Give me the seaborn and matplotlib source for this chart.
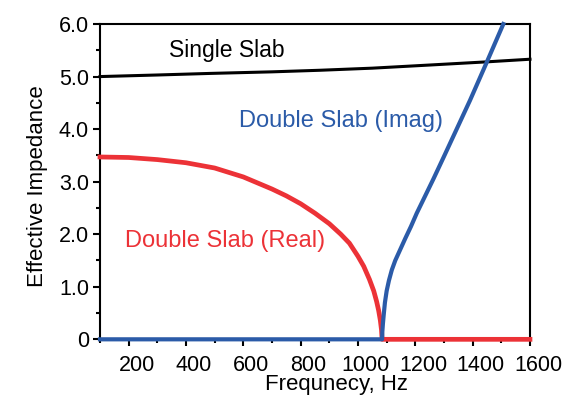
import numpy as np
import pandas as pd
import seaborn as sns
import matplotlib.pyplot as plt
from matplotlib.ticker import MultipleLocator, FixedLocator
from matplotlib.transforms import ScaledTranslation

# values
freq_single = [100, 300, 484, 700, 867, 1050, 1251, 1449, 1600]
z_single = [5.00, 5.03, 5.06, 5.09, 5.12, 5.16, 5.22, 5.28, 5.33]

freq_real = [100, 200, 300, 400, 500, 600, 700, 750, 800, 850, 900, 940, 970, 1000,
             1020, 1040, 1055, 1065, 1072, 1078, 1082, 1084, 1200, 1400, 1600]
z_real = [3.47, 3.46, 3.42, 3.36, 3.26, 3.09, 2.86, 2.73, 2.58, 2.40, 2.20, 2.00, 1.83, 1.58,
          1.39, 1.14, 0.92, 0.72, 0.55, 0.36, 0.18, 0.0, 0.0, 0.0, 0.0]

freq_imag = [100, 400, 700, 1000, 1084, 1085, 1087, 1090, 1094, 1100, 1108, 1118, 1130,
             1145, 1165, 1185, 1205, 1230, 1263, 1300, 1340, 1391, 1449, 1507]
z_imag = [0.0, 0.0, 0.0, 0.0, 0.0, 0.15, 0.30, 0.48, 0.70, 0.92, 1.12, 1.32, 1.50,
          1.68, 1.92, 2.15, 2.40, 2.68, 3.05, 3.48, 3.95, 4.55, 5.27, 6.0]

red = '#EC3237'
blue = '#2B5BA8'

plt.rcParams['font.family'] = ['Liberation Sans', 'DejaVu Sans']
plt.rcParams['xtick.direction'] = 'out'
plt.rcParams['ytick.direction'] = 'out'
plt.rcParams['xtick.major.size'] = 5
plt.rcParams['ytick.major.size'] = 5
plt.rcParams['xtick.minor.size'] = 3
plt.rcParams['ytick.minor.size'] = 3
plt.rcParams['xtick.major.width'] = 1.5
plt.rcParams['ytick.major.width'] = 1.5
plt.rcParams['xtick.minor.width'] = 1.5
plt.rcParams['ytick.minor.width'] = 1.5

fig = plt.figure(figsize=(5.76, 4.03), dpi=100)
ax = fig.add_axes([0.1736, 0.158, 0.7465, 0.7824])

sns.lineplot(x=freq_single, y=z_single, ax=ax, color='black', linewidth=2.2, sort=False)
sns.lineplot(x=freq_real, y=z_real, ax=ax, color=red, linewidth=3.4, sort=False)
sns.lineplot(x=freq_imag, y=z_imag, ax=ax, color=blue, linewidth=3.0, sort=False)
for ln in ax.get_lines():
    ln.set_clip_on(False)

ax.set_xlim(100, 1600)
ax.set_ylim(0, 6)

ax.xaxis.set_major_locator(FixedLocator([200, 400, 600, 800, 1000, 1200, 1400, 1600]))
ax.xaxis.set_minor_locator(MultipleLocator(100))
ax.set_yticks([0, 1, 2, 3, 4, 5, 6])
ax.set_yticklabels(['0', '1.0', '2.0', '3.0', '4.0', '5.0', '6.0'])
ax.yaxis.set_minor_locator(MultipleLocator(0.5))

for s in ax.spines.values():
    s.set_linewidth(1.5)
    s.set_color('black')
    s.set_zorder(0.5)

ax.tick_params(axis='x', which='major', pad=6, labelsize=15.5)
ax.tick_params(axis='y', which='major', pad=3, labelsize=15.5)

# labels in the reference sit a bit right of their ticks
shift = ScaledTranslation(0.08, 0, fig.dpi_scale_trans)
for lab in ax.get_xticklabels():
    lab.set_transform(lab.get_transform() + shift)

ax.set_xlabel('Frequnecy, Hz', fontsize=16)
ax.set_ylabel('Effective Impedance', fontsize=16)
ax.xaxis.set_label_coords(0.551, -0.110)
ax.yaxis.set_label_coords(-0.122, 0.486)

ax.text(542, 5.38, 'Single Slab', color='black', fontsize=16.5, ha='center', va='baseline')
ax.text(941, 4.04, 'Double Slab (Imag)', color=blue, fontsize=17, ha='center', va='baseline')
ax.text(536, 1.75, 'Double Slab (Real)', color=red, fontsize=17, ha='center', va='baseline')

plt.savefig('out.png', dpi=100)
